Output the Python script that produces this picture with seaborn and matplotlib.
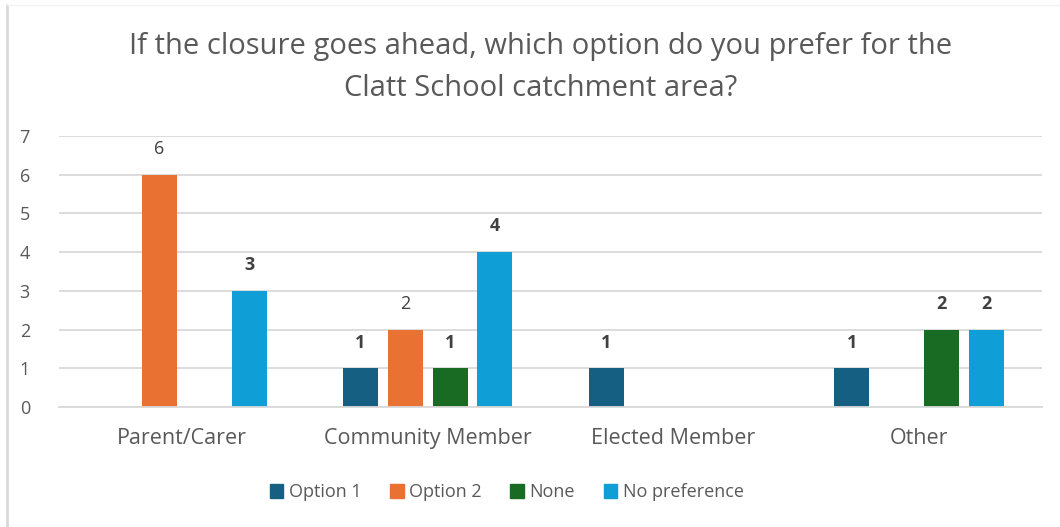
import numpy as np
import pandas as pd
import matplotlib
matplotlib.use('Agg')
import matplotlib.pyplot as plt
import seaborn as sns
from matplotlib.lines import Line2D

#%% data
categories = ['Parent/Carer', 'Community Member', 'Elected Member', 'Other']
series     = ['Option 1', 'Option 2', 'None', 'No preference']
option1    = [0, 1, 1, 1]
option2    = [6, 2, 0, 0]
none       = [0, 1, 0, 2]
no_pref    = [3, 4, 0, 2]
colors     = ['#156082', '#E97132', '#196B24', '#0F9ED5']
title      = 'If the closure goes ahead, which option do you prefer for the\nClatt School catchment area?'

df = pd.DataFrame({'group': categories * 4,
                   'answer': np.repeat(series, len(categories)),
                   'count': option1 + option2 + none + no_pref})

#%% figure
sns.set_style('white')
plt.rcParams['font.family'] = ['Open Sans', 'DejaVu Sans']
txt = '#595959'

fig = plt.figure(figsize=(10.6, 5.27), dpi=100)
ax = fig.add_axes([0.0557, 0.2277, 0.9273, 0.5143])
sns.barplot(data=df, x='group', y='count', hue='answer', hue_order=series,
            palette=colors, saturation=1, width=0.73, gap=0.22, linewidth=0,
            ax=ax, legend=False)

ax.set_ylim(0, 7)
ax.set_xlim(-0.5, 3.5)
ax.set_yticks(range(8))
ax.grid(axis='y', color='#D9D9D9', lw=1.3)
ax.set_axisbelow(True)
for s in ['top', 'right', 'left']:
    ax.spines[s].set_visible(False)
ax.spines['bottom'].set_color('#D9D9D9')
ax.spines['bottom'].set_linewidth(1.3)
ax.tick_params(axis='both', length=0, labelcolor=txt)
ax.tick_params(axis='x', pad=15, labelsize=15.5)
ax.tick_params(axis='y', pad=21, labelsize=13)
ax.set_xlabel('')
ax.set_ylabel('')

for i, cont in enumerate(ax.containers):
    labs = ['' if b.get_height() == 0 else '%d' % b.get_height() for b in cont]
    ax.bar_label(cont, labels=labs, padding=12, fontsize=13, color='#404040',
                 fontweight='normal' if i == 1 else 'bold')

fig.text(0.51, 0.872, title, ha='center', va='center', fontsize=21, color=txt,
         linespacing=1.55)

handles = [plt.Rectangle((0, 0), 1, 1, color=c) for c in colors]
fig.legend(handles, series, loc='center', bbox_to_anchor=(0.478, 0.066), ncol=4,
           frameon=False, fontsize=13, labelcolor=txt, handlelength=0.75,
           handleheight=0.75, handletextpad=0.3, columnspacing=1.6)

fig.add_artist(Line2D([0.0066, 0.0066], [0, 0.99], transform=fig.transFigure,
                      color='#D9D9D9', lw=2))
fig.add_artist(Line2D([0.0066, 1], [0.99, 0.99], transform=fig.transFigure,
                      color='#F2F2F2', lw=1))

fig.savefig('out.png', dpi=100, facecolor='w')
